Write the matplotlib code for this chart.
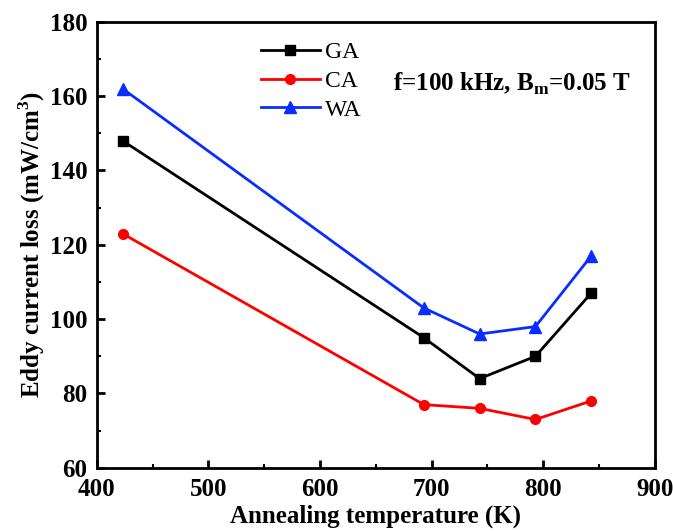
import matplotlib.pyplot as plt
import numpy as np

plt.rcParams['font.family'] = ['Liberation Serif', 'DejaVu Serif']
plt.rcParams['mathtext.fontset'] = 'custom'
plt.rcParams['mathtext.rm'] = 'Liberation Serif'
plt.rcParams['mathtext.bf'] = 'Liberation Serif:bold'

# annealing temperatures (K)
temps = [423, 693, 743, 793, 843]
ga = [148, 95, 84, 90, 107]
ca = [123, 77, 76, 73, 78]
wa = [162, 103, 96, 98, 117]

fig = plt.figure(figsize=(6.73, 5.31), dpi=100)
ax = fig.add_axes([0.144, 0.119, 0.829, 0.840])

ax.plot(temps, ga, color='black', marker='s', ms=7, lw=2, label='GA')
ax.plot(temps, ca, color='red', marker='o', ms=7, lw=2, label='CA')
ax.plot(temps, wa, color='#0a2dff', marker='^', ms=8, lw=2, label='WA')

ax.set_xlim(400, 900)
ax.set_ylim(60, 180)
ax.set_xticks(np.arange(400, 901, 100))
ax.set_yticks(np.arange(60, 181, 20))
ax.set_xticks(np.arange(450, 900, 100), minor=True)
ax.set_yticks(np.arange(70, 180, 20), minor=True)
ax.tick_params(which='major', direction='in', length=6, width=2, labelsize=18)
ax.tick_params(axis='x', which='major', pad=7)
ax.tick_params(axis='y', which='major', pad=7)
ax.tick_params(which='minor', direction='in', length=3, width=1.5)
for lab in ax.get_xticklabels() + ax.get_yticklabels():
    lab.set_fontweight('bold')
for sp in ax.spines.values():
    sp.set_linewidth(2)

ax.set_xlabel('Annealing temperature (K)', fontsize=18, fontweight='bold', labelpad=3)
ax.set_ylabel(r'Eddy current loss (mW/cm$^\mathbf{3}$)', fontsize=18, fontweight='bold', labelpad=2)

ax.legend(loc='upper left', bbox_to_anchor=(0.294, 0.955), frameon=False, fontsize=17,
          handlelength=2.5, handletextpad=0.2, labelspacing=0.3,
          borderpad=0, borderaxespad=0)
ax.text(0.53, 0.86, r'f=100 kHz, B$_\mathbf{m}$=0.05 T', transform=ax.transAxes,
        fontsize=18, fontweight='bold', va='center')

fig.savefig('out.png', dpi=100)
